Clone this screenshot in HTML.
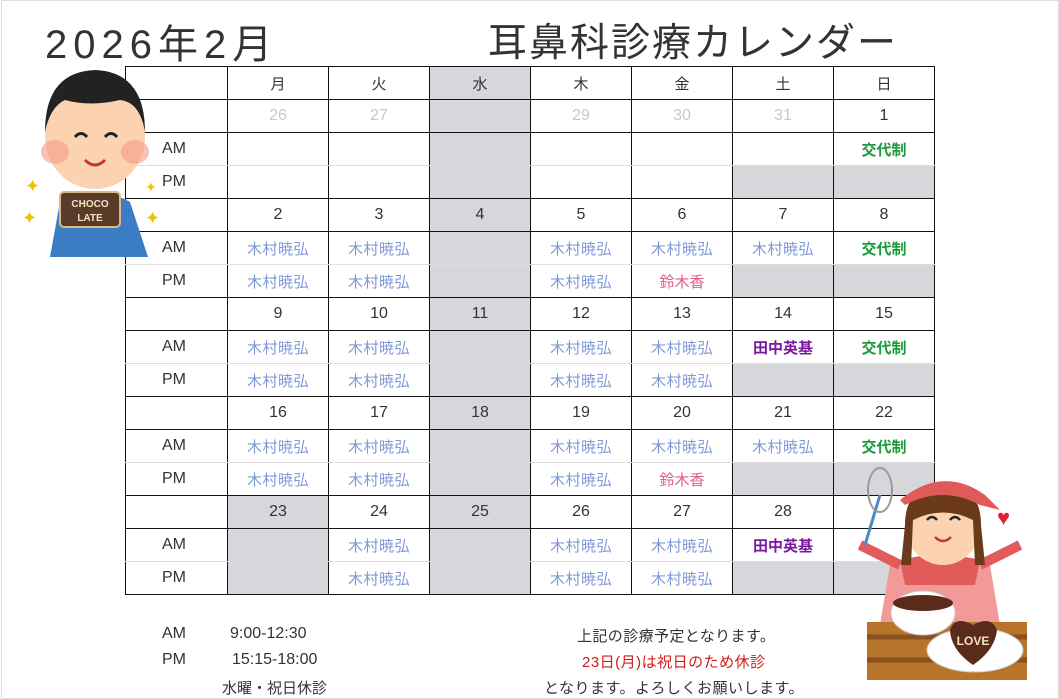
<!DOCTYPE html>
<html><head><meta charset="utf-8"><style>
body{margin:0;width:1059px;height:699px;background:#fff;position:relative;overflow:hidden;font-family:"Liberation Sans","Noto Sans CJK JP",sans-serif;color:#333}
.frame{position:absolute;left:1px;top:0;width:1056px;height:697px;border:1px solid #ddd}
.t{position:absolute;white-space:nowrap}
table{position:absolute;left:125px;top:66px;border-collapse:collapse;table-layout:fixed}
td{border:1.5px solid #111;height:32px;padding:0;text-align:center;font-size:15px;color:#333}
td.l{font-size:16px;text-align:left;padding-left:36px}
tr.am td{border-bottom:1px solid #ddd}
tr.pm td{border-top:1px solid #ddd}
.g{background:#d6d7db}
.k{color:#7f98d6;font-size:15px;letter-spacing:.5px}
.s{color:#1a9a3a;font-size:15px;font-weight:bold}
.p{color:#e05a8c;font-size:15px}
.v{color:#7a16a0;font-size:15px;font-weight:bold}
.o{color:#c8c8c8;font-size:16px}
.d{font-size:16px}
</style></head><body>
<div class="frame"></div>
<div class="t" style="left:45px;top:12px;font-size:40px;letter-spacing:6px;color:#333">2026年2月</div>
<div class="t" style="left:488px;top:12px;font-size:39px;letter-spacing:2px;color:#333">耳鼻科診療カレンダー</div>
<table>
<colgroup><col style="width:102px"><col style="width:101px"><col style="width:101px"><col style="width:101px"><col style="width:101px"><col style="width:101px"><col style="width:101px"><col style="width:101px"></colgroup>
<tr><td></td><td>月</td><td>火</td><td class="g">水</td><td>木</td><td>金</td><td>土</td><td>日</td></tr>
<tr><td></td><td class="o">26</td><td class="o">27</td><td class="g"></td><td class="o">29</td><td class="o">30</td><td class="o">31</td><td class="d">1</td></tr>
<tr class="am"><td class="l">AM</td><td></td><td></td><td class="g"></td><td></td><td></td><td></td><td class="s">交代制</td></tr>
<tr class="pm"><td class="l">PM</td><td></td><td></td><td class="g"></td><td></td><td></td><td class="g"></td><td class="g"></td></tr>
<tr><td></td><td class="d">2</td><td class="d">3</td><td class="g d">4</td><td class="d">5</td><td class="d">6</td><td class="d">7</td><td class="d">8</td></tr>
<tr class="am"><td class="l">AM</td><td class="k">木村暁弘</td><td class="k">木村暁弘</td><td class="g"></td><td class="k">木村暁弘</td><td class="k">木村暁弘</td><td class="k">木村暁弘</td><td class="s">交代制</td></tr>
<tr class="pm"><td class="l">PM</td><td class="k">木村暁弘</td><td class="k">木村暁弘</td><td class="g"></td><td class="k">木村暁弘</td><td class="p">鈴木香</td><td class="g"></td><td class="g"></td></tr>
<tr><td></td><td class="d">9</td><td class="d">10</td><td class="g d">11</td><td class="d">12</td><td class="d">13</td><td class="d">14</td><td class="d">15</td></tr>
<tr class="am"><td class="l">AM</td><td class="k">木村暁弘</td><td class="k">木村暁弘</td><td class="g"></td><td class="k">木村暁弘</td><td class="k">木村暁弘</td><td class="v">田中英基</td><td class="s">交代制</td></tr>
<tr class="pm"><td class="l">PM</td><td class="k">木村暁弘</td><td class="k">木村暁弘</td><td class="g"></td><td class="k">木村暁弘</td><td class="k">木村暁弘</td><td class="g"></td><td class="g"></td></tr>
<tr><td></td><td class="d">16</td><td class="d">17</td><td class="g d">18</td><td class="d">19</td><td class="d">20</td><td class="d">21</td><td class="d">22</td></tr>
<tr class="am"><td class="l">AM</td><td class="k">木村暁弘</td><td class="k">木村暁弘</td><td class="g"></td><td class="k">木村暁弘</td><td class="k">木村暁弘</td><td class="k">木村暁弘</td><td class="s">交代制</td></tr>
<tr class="pm"><td class="l">PM</td><td class="k">木村暁弘</td><td class="k">木村暁弘</td><td class="g"></td><td class="k">木村暁弘</td><td class="p">鈴木香</td><td class="g"></td><td class="g"></td></tr>
<tr><td></td><td class="g d">23</td><td class="d">24</td><td class="g d">25</td><td class="d">26</td><td class="d">27</td><td class="d">28</td><td></td></tr>
<tr class="am"><td class="l">AM</td><td class="g"></td><td class="k">木村暁弘</td><td class="g"></td><td class="k">木村暁弘</td><td class="k">木村暁弘</td><td class="v">田中英基</td><td></td></tr>
<tr class="pm"><td class="l">PM</td><td class="g"></td><td class="k">木村暁弘</td><td class="g"></td><td class="k">木村暁弘</td><td class="k">木村暁弘</td><td class="g"></td><td class="g"></td></tr>
</table>

<!-- boy -->
<svg style="position:absolute;left:20px;top:62px" width="150" height="200">
<path d="M40 140 Q70 118 110 140 L128 195 L30 195 Z" fill="#3b7dc4"/>
<ellipse cx="75" cy="75" rx="50" ry="52" fill="#fbd3b0"/>
<path d="M25 70 Q25 10 75 8 Q125 10 125 70 Q120 40 100 38 Q70 45 45 38 Q30 45 25 70Z" fill="#222"/>
<ellipse cx="35" cy="90" rx="14" ry="12" fill="#f59a8a" opacity=".6"/>
<ellipse cx="115" cy="90" rx="14" ry="12" fill="#f59a8a" opacity=".6"/>
<path d="M55 75 q6 -7 12 0 M85 75 q6 -7 12 0" stroke="#222" stroke-width="3" fill="none"/>
<path d="M65 98 q10 10 20 0" stroke="#c33" stroke-width="3" fill="none"/>
<rect x="40" y="130" width="60" height="35" rx="4" fill="#5a3a28" stroke="#d9b98a" stroke-width="2"/>
<text x="70" y="145" font-size="10" fill="#f4e4c4" text-anchor="middle" font-weight="bold" font-family="Liberation Sans">CHOCO</text>
<text x="70" y="159" font-size="10" fill="#f4e4c4" text-anchor="middle" font-weight="bold" font-family="Liberation Sans">LATE</text>
<text x="5" y="130" font-size="18" fill="#f5c000">✦</text>
<text x="2" y="162" font-size="18" fill="#f5c000">✦</text>
<text x="125" y="130" font-size="14" fill="#f5c000">✦</text>
<text x="125" y="162" font-size="18" fill="#f5c000">✦</text>
</svg>

<!-- girl -->
<svg style="position:absolute;left:855px;top:465px" width="200" height="215">
<path d="M35 100 L135 100 L150 190 L20 190Z" fill="#f29a9a"/>
<path d="M45 95 Q85 85 125 95 L120 120 L50 120Z" fill="#e25a5a"/>
<path d="M5 80 L45 100 M165 80 L125 100" stroke="#e25a5a" stroke-width="10"/>
<ellipse cx="88" cy="60" rx="38" ry="40" fill="#fbd3b0"/>
<path d="M50 60 Q50 20 88 20 Q126 20 126 60 L130 100 L120 100 L118 55 Q88 40 58 55 L56 100 L46 100Z" fill="#6a3a1a"/>
<path d="M45 35 Q88 0 130 30 L145 45 L125 40 Q88 20 50 40Z" fill="#e05a5a"/>
<path d="M72 55 q5 -6 10 0 M95 55 q5 -6 10 0" stroke="#222" stroke-width="2.5" fill="none"/>
<path d="M80 72 q8 8 16 0" stroke="#c33" stroke-width="2.5" fill="none"/>
<path d="M10 80 L25 30" stroke="#4a8ac4" stroke-width="3"/>
<ellipse cx="25" cy="25" rx="12" ry="22" fill="none" stroke="#999" stroke-width="2"/>
<text x="142" y="60" font-size="22" fill="#e0203a">♥</text>
<rect x="12" y="157" width="160" height="60" fill="#b8742a"/>
<path d="M12 172 H172 M12 195 H172" stroke="#8a5020" stroke-width="5"/>
<ellipse cx="68" cy="148" rx="32" ry="22" fill="#fff" stroke="#ccc"/>
<ellipse cx="68" cy="138" rx="30" ry="8" fill="#5a2a1a"/>
<ellipse cx="120" cy="185" rx="48" ry="22" fill="#fff" stroke="#ccc"/>
<path d="M95 165 Q100 150 118 160 Q136 150 142 165 Q140 185 118 200 Q96 185 95 165Z" fill="#5a2a1a"/>
<text x="118" y="180" font-size="12" fill="#f4e4c4" text-anchor="middle" font-weight="bold" font-family="Liberation Sans">LOVE</text>
</svg>

<div class="t" style="left:162px;top:625px;font-size:16px">AM</div>
<div class="t" style="left:230px;top:625px;font-size:16px">9:00-12:30</div>
<div class="t" style="left:162px;top:651px;font-size:16px">PM</div>
<div class="t" style="left:232px;top:651px;font-size:16px">15:15-18:00</div>
<div class="t" style="left:222px;top:677px;font-size:15px">水曜・祝日休診</div>
<div class="t" style="left:577px;top:625px;font-size:15px;letter-spacing:.4px">上記の診療予定となります。</div>
<div class="t" style="left:582px;top:651px;font-size:15px;letter-spacing:.5px;color:#d41a1a">23日(月)は祝日のため休診</div>
<div class="t" style="left:544px;top:677px;font-size:15px;letter-spacing:.5px">となります。よろしくお願いします。</div>
</body></html>
